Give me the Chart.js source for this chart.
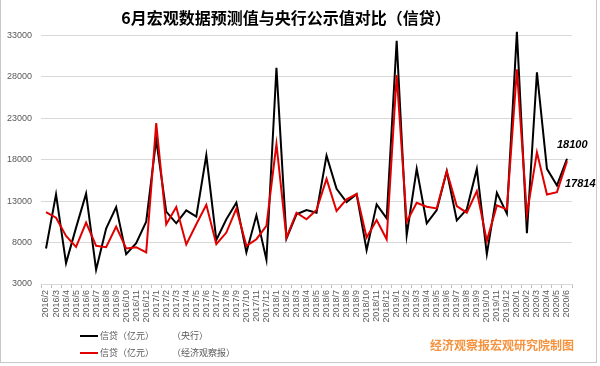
<!DOCTYPE html>
<html>
<head>
<meta charset="utf-8">
<script src="https://cdn.jsdelivr.net/npm/chart.js@4/dist/chart.umd.min.js"></script>
<style>
    body { margin: 0; background: #fff; }
    #wrap { position: relative; width: 600px; height: 366px; }
    #frame { position: absolute; left: 0; top: 0; width: 595px; height: 362px;
             border: 1px solid #c8c8c8; border-top: none; }
    #legend { position: absolute; left: 80px; top: 327px;
              font: 9px "Noto Sans CJK SC", sans-serif; color: #595959; }
    #legend .row { height: 17px; display: flex; align-items: center; }
    #legend .swatch { width: 18px; height: 2px; margin-right: 2px; }
    #legend .unit { margin-left: 18px; }
    #mark { position: absolute; left: 430px; top: 336px;
            font: bold 12px "Noto Sans CJK SC", sans-serif; color: #f5923e; }
</style>
</head>
<body>
<div id="wrap">
    <canvas id="chart" width="600" height="366"></canvas>
    <div id="frame"></div>
    <div id="legend"></div>
    <div id="mark">经济观察报宏观研究院制图</div>
</div>
<script>
const months = [
    '2016/2','2016/3','2016/4','2016/5','2016/6','2016/7','2016/8','2016/9','2016/10','2016/11','2016/12',
    '2017/1','2017/2','2017/3','2017/4','2017/5','2017/6','2017/7','2017/8','2017/9','2017/10','2017/11','2017/12',
    '2018/1','2018/2','2018/3','2018/4','2018/5','2018/6','2018/7','2018/8','2018/9','2018/10','2018/11','2018/12',
    '2019/1','2019/2','2019/3','2019/4','2019/5','2019/6','2019/7','2019/8','2019/9','2019/10','2019/11','2019/12',
    '2020/1','2020/2','2020/3','2020/4','2020/5','2020/6'
];

// 央行公布值
const pbocLoans = [
    7280, 13800, 5520, 9800, 13900, 4720, 9680, 12280, 6600, 7920, 10520,
    20400, 11720, 10320, 11880, 11120, 18520, 8320, 10800, 12800, 6800, 11280, 5920,
    29080, 8480, 11400, 11920, 11600, 18480, 14480, 12880, 13840, 7080, 12600, 10920,
    32320, 8880, 16880, 10320, 11920, 16600, 10680, 12000, 16880, 6600, 14000, 11480,
    33400, 9120, 28520, 16880, 14880, 18100
];

// 经济观察报预测值
const eeoLoans = [
    11680, 11000, 8800, 7480, 10400, 7600, 7440, 9920, 7280, 7440, 6800,
    22400, 10200, 12280, 7760, 10200, 12560, 7800, 9200, 12080, 7600, 8400, 10000,
    19880, 8600, 11600, 10800, 11920, 15680, 11800, 13200, 13840, 8600, 10720, 8400,
    28200, 10500, 12800, 12320, 12120, 16600, 12400, 11600, 14200, 8200, 12480, 12000,
    28880, 11400, 18880, 13800, 14080, 17814
];

const seriesNames = ['信贷（亿元）', '信贷（亿元）'];
const seriesTags = ['（央行）', '（经济观察报）'];
const seriesColors = ['#000000', '#e00000'];

// label the last point of each line
const lastValueLabels = {
    id: 'lastValueLabels',
    afterDatasetsDraw(chart) {
        const ctx = chart.ctx;
        const offsets = [[-10, -14], [-2, 23]];
        ctx.save();
        ctx.font = 'italic bold 11px "Liberation Sans", Arial, sans-serif';
        ctx.fillStyle = '#000';
        ctx.textBaseline = 'middle';
        chart.data.datasets.forEach((ds, i) => {
            const pts = chart.getDatasetMeta(i).data;
            const p = pts[pts.length - 1];
            const v = ds.data[ds.data.length - 1];
            ctx.fillText(String(v), p.x + offsets[i][0], p.y + offsets[i][1]);
        });
        ctx.restore();
    }
};

const chart = new Chart(document.getElementById('chart'), {
    type: 'line',
    data: {
        labels: months,
        datasets: [
            {
                label: seriesNames[0] + seriesTags[0],
                data: pbocLoans,
                borderColor: seriesColors[0],
                borderWidth: 2,
                pointRadius: 0,
                tension: 0,
                clip: 10,
                order: 1
            },
            {
                label: seriesNames[1] + seriesTags[1],
                data: eeoLoans,
                borderColor: seriesColors[1],
                borderWidth: 2,
                pointRadius: 0,
                tension: 0,
                order: 0
            }
        ]
    },
    options: {
        responsive: false,
        animation: false,
        devicePixelRatio: 1,
        layout: { padding: { left: 0, right: 28, top: 0, bottom: 0 } },
        plugins: {
            legend: { display: false },
            tooltip: { enabled: false },
            title: {
                display: true,
                text: '6月宏观数据预测值与央行公示值对比（信贷）',
                color: '#000',
                font: { family: '"Noto Sans CJK SC", sans-serif', size: 16, weight: 'bold' },
                padding: { top: 8, bottom: 8 }
            }
        },
        scales: {
            x: {
                offset: true,
                grid: {
                    offset: true,
                    drawOnChartArea: false,
                    drawTicks: true,
                    tickLength: 4,
                    color: '#bfbfbf'
                },
                border: { display: true, color: '#d9d9d9' },
                ticks: {
                    autoSkip: false,
                    maxRotation: 90,
                    minRotation: 90,
                    padding: 2,
                    color: '#595959',
                    font: { family: '"Liberation Sans", Arial, sans-serif', size: 9 }
                },
                afterFit(scale) { scale.height = 82; }
            },
            y: {
                min: 3000,
                max: 33000,
                ticks: {
                    stepSize: 5000,
                    padding: 9,
                    color: '#595959',
                    font: { family: '"Liberation Sans", Arial, sans-serif', size: 9 },
                    callback: v => String(v)
                },
                grid: { color: '#d9d9d9', drawTicks: false },
                border: { display: false },
                afterFit(scale) { scale.width = 41; }
            }
        }
    },
    plugins: [lastValueLabels]
});

// legend stacked in two rows, like the original
const legendBox = document.getElementById('legend');
seriesNames.forEach((name, i) => {
    const row = document.createElement('div');
    row.className = 'row';
    row.innerHTML = '<span class="swatch" style="background:' + seriesColors[i] + '"></span>' +
        '<span>' + name + '</span><span class="unit">' + seriesTags[i] + '</span>';
    legendBox.appendChild(row);
});
</script>
</body>
</html>
